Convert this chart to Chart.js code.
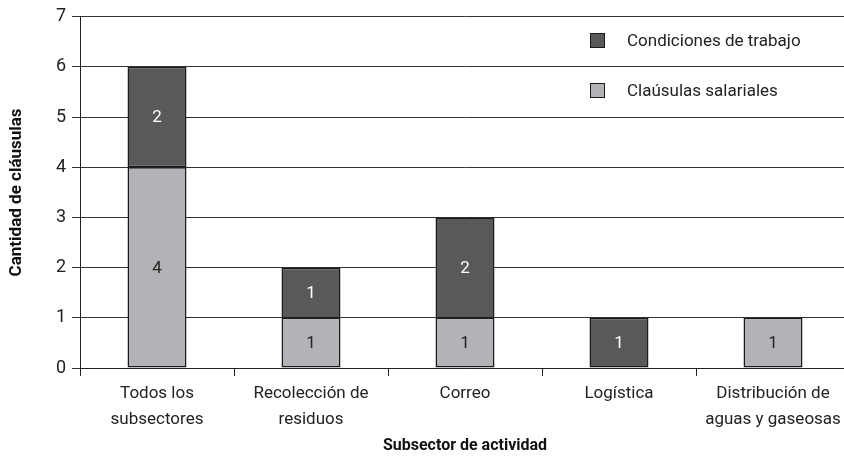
<!DOCTYPE html>
<html>
<head>
<meta charset="utf-8">
<script src="https://cdn.jsdelivr.net/npm/chart.js@4"></script>
<style>
  body { margin: 0; background: #fff; overflow: hidden; }
  #wrap { width: 844px; height: 462px; overflow: hidden; }
  #box { width: 870px; height: 462px; }
</style>
</head>
<body>
<div id="wrap"><div id="box"><canvas id="chart"></canvas></div></div>
<script>
// ===== Data =====
const categories = [
    ["Todos los", "subsectores"],
    ["Recolección de", "residuos"],
    "Correo",
    "Logística",
    ["Distribución de", "aguas y gaseosas"]
];
const condiciones = [2, 1, 2, 1, 0];
const salariales = [4, 1, 1, 0, 1];
const yTicks = [0, 1, 2, 3, 4, 5, 6, 7];

const darkGrey = "#58595b";
const lightGrey = "#b1b3b6";
const fontName = "Roboto";

// ===== Value labels inside bars =====
const valueLabels = {
    id: "valueLabels",
    afterDatasetsDraw(chart) {
        const ctx = chart.ctx;
        ctx.save();
        ctx.font = "17px " + fontName;
        ctx.textAlign = "center";
        ctx.textBaseline = "middle";
        chart.data.datasets.forEach((ds, i) => {
            chart.getDatasetMeta(i).data.forEach((bar, j) => {
                const v = ds.data[j];
                if (!v) return;
                ctx.fillStyle = ds.labelColor;
                ctx.fillText(v, bar.x, (bar.y + bar.base) / 2 + 1);
            });
        });
        ctx.restore();
    }
};

// ===== Legend drawn inside the plot =====
const innerLegend = {
    id: "innerLegend",
    afterDraw(chart) {
        const ctx = chart.ctx;
        const items = [chart.data.datasets[1], chart.data.datasets[0]];
        ctx.save();
        ctx.font = "17px " + fontName;
        ctx.textBaseline = "middle";
        items.forEach((ds, k) => {
            const y = 33 + k * 50;
            ctx.fillStyle = ds.backgroundColor;
            ctx.fillRect(590, y, 15, 15);
            ctx.strokeStyle = "#1a1a1a";
            ctx.lineWidth = 1;
            ctx.strokeRect(590.5, y + 0.5, 14, 14);
            ctx.fillStyle = "#222";
            ctx.fillText(ds.label, 627, y + 9);
        });
        ctx.restore();
    }
};

// ===== Chart =====
const ctx = document.getElementById("chart").getContext("2d");
new Chart(ctx, {
    type: "bar",
    data: {
        labels: categories,
        datasets: [
            {
                label: "Claúsulas salariales",
                data: salariales,
                backgroundColor: lightGrey,
                borderColor: "#1a1a1a",
                borderWidth: 1.5,
                borderSkipped: false,
                labelColor: "#222"
            },
            {
                label: "Condiciones de trabajo",
                data: condiciones,
                backgroundColor: darkGrey,
                borderColor: "#1a1a1a",
                borderWidth: 1.5,
                borderSkipped: false,
                labelColor: "#fff"
            }
        ]
    },
    options: {
        responsive: true,
        maintainAspectRatio: false,
        animation: false,
        layout: { padding: { top: 16, right: 20, left: 0, bottom: 0 } },
        datasets: {
            bar: { categoryPercentage: 1, barPercentage: 0.383 }
        },
        plugins: {
            legend: { display: false },
            tooltip: { enabled: false }
        },
        scales: {
            x: {
                stacked: true,
                afterFit: (s) => { s.height = 94; },
                grid: {
                    offset: true,
                    drawOnChartArea: false,
                    drawTicks: true,
                    tickLength: 8,
                    color: "#222"
                },
                border: { color: "#222", width: 1 },
                ticks: {
                    color: "#222",
                    font: { family: fontName, size: 17, lineHeight: 1.5 },
                    padding: 5,
                    maxRotation: 0
                },
                title: {
                    display: true,
                    text: "Subsector de actividad",
                    color: "#111",
                    font: { family: fontName, size: 16, weight: "bold" },
                    padding: { top: 0, bottom: 6 }
                }
            },
            y: {
                stacked: true,
                min: 0,
                max: 7,
                afterFit: (s) => { s.width = 80; },
                afterBuildTicks: (s) => { s.ticks = yTicks.map(v => ({ value: v })); },
                grid: {
                    color: "#333",
                    lineWidth: 1,
                    drawTicks: true,
                    tickLength: 8
                },
                border: { color: "#222", width: 1 },
                ticks: {
                    color: "#222",
                    font: { family: fontName, size: 18 },
                    padding: 6
                },
                title: {
                    display: true,
                    text: "Cantidad de cláusulas",
                    color: "#111",
                    font: { family: fontName, size: 17, weight: "bold" },
                    padding: { top: 7, bottom: 0 }
                }
            }
        }
    },
    plugins: [valueLabels, innerLegend]
});
</script>
</body>
</html>
